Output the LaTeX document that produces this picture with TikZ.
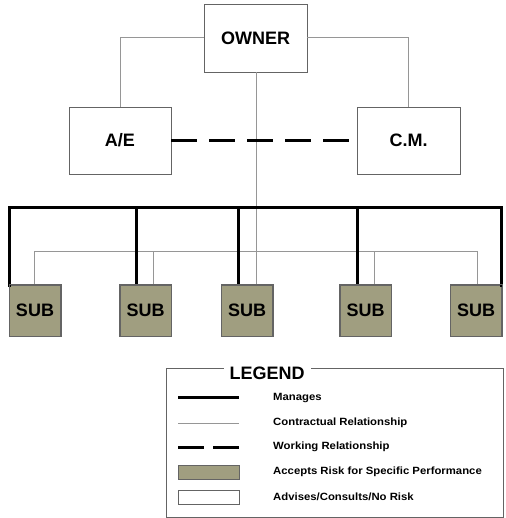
\documentclass[tikz,border=0pt]{standalone}
\usepackage{fontspec}
\setmainfont{Liberation Sans}
\definecolor{subfill}{RGB}{160,158,128}
\definecolor{thingray}{RGB}{150,150,150}
\definecolor{boxline}{RGB}{100,100,100}
\begin{document}
\begin{tikzpicture}[x=1pt,y=-1pt,
  box/.style={draw=boxline,line width=0.9pt,fill=white,inner sep=0pt,font=\fontsize{18}{20}\selectfont\bfseries},
  subbox/.style={draw=boxline,line width=0.9pt,fill=subfill,inner sep=0pt,minimum width=51pt,minimum height=51pt,font=\fontsize{18}{20}\selectfont\bfseries},
  manages/.style={line width=3pt,black},
  contract/.style={line width=1pt,draw=thingray},
  working/.style={line width=3pt,black,dash pattern=on 26pt off 12pt},
  legtext/.style={anchor=west,inner sep=0pt,font=\fontsize{10.5}{12}\selectfont\bfseries,xscale=1.08}]
\useasboundingbox (0,0) rectangle (505,518);
% main boxes
\node[box,minimum width=103pt,minimum height=68pt] (owner) at (255.5,38) {OWNER};
\node[box,minimum width=102pt,minimum height=67pt] (ae) at (120,140.5) {A/E};
\node[box,minimum width=103pt,minimum height=67pt] (cm) at (408.5,140.5) {C.M.};
% subs
\node[subbox] (s1) at (35,310.5) {SUB};
\node[subbox] (s2) at (145.5,310.5) {SUB};
\node[subbox] (s3) at (247,310.5) {SUB};
\node[subbox] (s4) at (365.5,310.5) {SUB};
\node[subbox] (s5) at (476,310.5) {SUB};
% coordinates
\coordinate (tl) at (9,208);
\coordinate (tr) at (501,208);
\coordinate (cl) at (34,251);
\coordinate (cr) at (477,251);
% contractual lines
\draw[contract] (owner.west) -| (ae.north);
\draw[contract] (owner.east) -| (cm.north);
\draw[contract] (owner.south -| 256,0) -- (256,285);
\draw[contract] (34,285) -- (cl) -- (cr) -- (477,285);
\draw[contract] (153,251) -- (153,285);
\draw[contract] (374,251) -- (374,285);
% working relationship
\draw[working] (ae.east) -- (cm.west);
% manages
\draw[manages,line cap=rect] (9,285) -- (tl) -- (tr) -- (501,285);
\draw[manages] (136,208) -- (136,285);
\draw[manages] (238,208) -- (238,285);
\draw[manages] (357,208) -- (357,285);
% redraw sub box outlines on top of line ends
\foreach \s in {s1,s2,s3,s4,s5} {\draw[draw=boxline,line width=0.9pt] (\s.north west) rectangle (\s.south east);}
% legend
\draw[draw=boxline,line width=1pt] (166,368) rectangle (503,517);
\node[fill=white,inner xsep=6pt,inner ysep=1pt,font=\fontsize{18}{20}\selectfont\bfseries] (legtitle) at (267,373) {LEGEND};
\coordinate (la1) at (178,397); \coordinate (lb1) at (239,397);
\coordinate (la2) at (178,423); \coordinate (lb2) at (239,423);
\coordinate (la3) at (178,447); \coordinate (lb3) at (239,447);
\draw[manages] (la1) -- (lb1);
\draw[contract] (la2) -- (lb2);
\draw[line width=3pt,black,dash pattern=on 26pt off 9pt] (la3) -- (lb3);
\draw[draw=boxline,line width=0.9pt,fill=subfill] (178,465) rectangle (239,479);
\draw[draw=boxline,line width=0.9pt,fill=white] (178,490) rectangle (239,504);
\node[legtext] (t1) at (273,398) {Manages};
\node[legtext] (t2) at (273,423) {Contractual Relationship};
\node[legtext] (t3) at (273,447) {Working Relationship};
\node[legtext] (t4) at (273,472) {Accepts Risk for Specific Performance};
\node[legtext] (t5) at (273,497) {Advises/Consults/No Risk};
\end{tikzpicture}
\end{document}
